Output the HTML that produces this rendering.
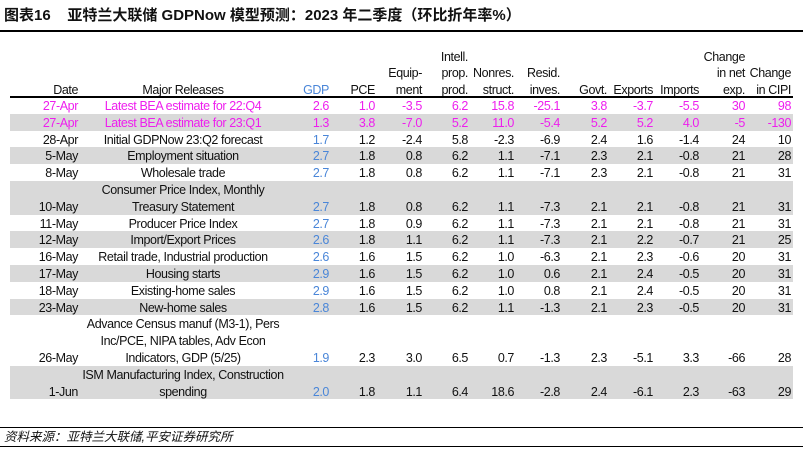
<!DOCTYPE html>
<html><head><meta charset="utf-8"><style>
body{margin:0;width:803px;height:453px;background:#fff;position:relative;overflow:hidden;font-family:"Liberation Sans","Noto Sans CJK SC",sans-serif;font-size:12.5px;letter-spacing:-0.4px;color:#111}
.a{position:absolute;white-space:nowrap;line-height:16.8px}
.r{text-align:right}
.c{text-align:center}
.hl{position:absolute;background:#000}
.sh{position:absolute;left:10px;width:783px;background:#d9d9d9}
</style></head><body>
<div class="a" style="left:4px;top:8px;font-weight:bold;font-size:15px;letter-spacing:0">图表16&nbsp;&nbsp;&nbsp;&nbsp;亚特兰大联储 GDPNow 模型预测：2023 年二季度（环比折年率%）</div>
<div class="hl" style="left:0;top:30px;width:803px;height:2px"></div>
<div id="tbl"></div>
<div class="hl" style="left:10px;top:96px;width:783px;height:2px"></div>
<div class="hl" style="left:0;top:427px;width:803px;height:1px"></div>
<div class="a" style="left:4px;top:429px;font-style:italic;letter-spacing:0">资料来源：亚特兰大联储,平安证券研究所</div>
<div class="hl" style="left:0;top:446px;width:803px;height:1px"></div>
<script>
const dates=["27-Apr","27-Apr","28-Apr","5-May","8-May","10-May","11-May","12-May","16-May","17-May","18-May","23-May","26-May","1-Jun"];
const releases=[["Latest BEA estimate for 22:Q4"],["Latest BEA estimate for 23:Q1"],["Initial GDPNow 23:Q2 forecast"],["Employment situation"],["Wholesale trade"],["Consumer Price Index, Monthly","Treasury Statement"],["Producer Price Index"],["Import/Export Prices"],["Retail trade, Industrial production"],["Housing starts"],["Existing-home sales"],["New-home sales"],["Advance Census manuf (M3-1), Pers","Inc/PCE, NIPA tables, Adv Econ","Indicators, GDP (5/25)"],["ISM Manufacturing Index, Construction","spending"]];
const values=[
["2.6","1.0","-3.5","6.2","15.8","-25.1","3.8","-3.7","-5.5","30","98"],
["1.3","3.8","-7.0","5.2","11.0","-5.4","5.2","5.2","4.0","-5","-130"],
["1.7","1.2","-2.4","5.8","-2.3","-6.9","2.4","1.6","-1.4","24","10"],
["2.7","1.8","0.8","6.2","1.1","-7.1","2.3","2.1","-0.8","21","28"],
["2.7","1.8","0.8","6.2","1.1","-7.1","2.3","2.1","-0.8","21","31"],
["2.7","1.8","0.8","6.2","1.1","-7.3","2.1","2.1","-0.8","21","31"],
["2.7","1.8","0.9","6.2","1.1","-7.3","2.1","2.1","-0.8","21","31"],
["2.6","1.8","1.1","6.2","1.1","-7.3","2.1","2.2","-0.7","21","25"],
["2.6","1.6","1.5","6.2","1.0","-6.3","2.1","2.3","-0.6","20","31"],
["2.9","1.6","1.5","6.2","1.0","0.6","2.1","2.4","-0.5","20","31"],
["2.9","1.6","1.5","6.2","1.0","0.8","2.1","2.4","-0.5","20","31"],
["2.8","1.6","1.5","6.2","1.1","-1.3","2.1","2.3","-0.5","20","31"],
["1.9","2.3","3.0","6.5","0.7","-1.3","2.3","-5.1","3.3","-66","28"],
["2.0","1.8","1.1","6.4","18.6","-2.8","2.4","-6.1","2.3","-63","29"]];
const headers=[["GDP"],["PCE"],["Equip-","ment"],["Intell.","prop.","prod."],["Nonres.","struct."],["Resid.","inves."],["Govt."],["Exports"],["Imports"],["Change","in net","exp."],["Change","in CIPI"]];
const colRight=[329,375,422,468,514,560,607,653,699,745,791];
const P=16.8, top0=97;
const T=document.getElementById('tbl');
function mk(cls,l,t,txt){const d=document.createElement('div');d.className='a '+cls;d.style.left=l+'px';d.style.top=t+'px';d.textContent=txt;T.appendChild(d);return d;}
let h=mk('r',0,top0+2-P,'Date');h.style.width='78px';


h=mk('c',90,top0+2-P,'Major Releases');h.style.width='186px';


headers.forEach((hd,i)=>{hd.forEach((ln,k)=>{const t=top0+2-P*(hd.length-k);const d=mk('r',colRight[i]-70,t,ln);d.style.width='70px';if(i===0)d.style.color='#4a86d8';


});});
let y=top0;
dates.forEach((dt,i)=>{
 const n=releases[i].length;const hgt=n*P;
 if(i%2===1){const s=document.createElement('div');s.className='sh';s.style.top=y+'px';s.style.height=hgt+'px';
 
 
 T.insertBefore(s,T.firstChild);}
 const mag=i<2;const col=mag?'#ee1eee':'#111';
 const last=y+1+(n-1)*P;
 const d=mk('r',0,last,dt);d.style.width='78px';d.style.color=col;
 
 
 releases[i].forEach((ln,k)=>{const e=mk('c',70,y+1+k*P,ln);e.style.width='226px';e.style.color=col;
 
 
 });
 values[i].forEach((v,j)=>{const e=mk('r',colRight[j]-60,last,v);e.style.width='60px';e.style.color=mag?'#ee1eee':(j===0?'#4a86d8':'#111');
 
 
 });
 y+=hgt;
});
</script>
</body></html>
